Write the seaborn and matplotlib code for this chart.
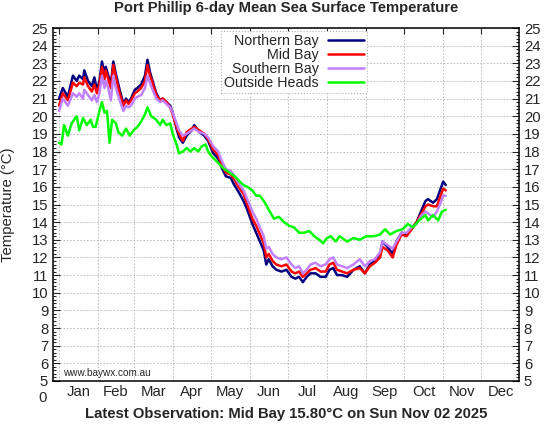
import matplotlib
matplotlib.use('Agg')
import matplotlib.pyplot as plt
import seaborn as sns
from matplotlib.ticker import MultipleLocator

# Day of year (0 = Jan 1) for the three bay sites
days_bay = [0, 3, 7, 11, 14, 16, 19, 20, 23, 26, 28, 30, 32, 34, 36, 37, 39, 41, 43, 45,
            48, 51, 53, 55, 57, 60, 62, 65, 68, 70, 72, 74, 77, 80, 82, 85, 88, 90, 93, 95,
            98, 101, 105, 107, 111, 115, 118, 122, 126, 128, 132, 136, 138, 143, 146, 149, 153, 156, 159, 162,
            164, 166, 169, 172, 176, 180, 184, 187, 190, 193, 196, 199, 203, 207, 211, 214, 217, 220, 224, 228,
            233, 238, 242, 246, 250, 254, 256, 260, 264, 267, 271, 275, 279, 283, 287, 290, 292, 296, 299, 302,
            304, 306]

northern_bay = [21.0, 21.6, 21.1, 22.3, 22.0, 22.3, 22.1, 22.6, 22.0, 21.7, 22.2, 21.5, 22.0, 23.1, 22.4, 22.8, 22.3, 21.8, 23.1, 22.4,
                21.5, 20.7, 21.0, 20.8, 21.0, 21.5, 21.6, 21.8, 22.3, 23.2, 22.5, 22.0, 21.3, 20.9, 21.0, 20.8, 20.6, 20.2, 19.3, 18.8,
                18.5, 18.9, 19.2, 19.5, 19.1, 18.9, 18.6, 17.9, 17.6, 17.2, 16.6, 16.5, 16.2, 15.6, 15.2, 14.7, 13.9, 13.4, 12.9, 12.4,
                11.6, 11.9, 11.5, 11.3, 11.2, 11.3, 10.9, 10.8, 10.9, 10.6, 10.9, 11.1, 11.1, 10.9, 10.9, 11.3, 11.4, 11.0, 11.0, 10.9,
                11.3, 11.5, 11.1, 11.6, 11.8, 12.1, 12.9, 12.6, 12.2, 12.9, 13.4, 13.3, 13.6, 14.0, 14.7, 15.2, 15.3, 15.1, 15.3, 15.9,
                16.3, 16.1]

mid_bay = [20.6, 21.3, 20.9, 21.9, 21.7, 21.9, 21.8, 22.2, 21.7, 21.4, 21.8, 21.3, 21.8, 22.8, 22.1, 22.6, 22.1, 21.6, 22.9, 22.2,
           21.3, 20.6, 20.9, 20.7, 20.9, 21.3, 21.4, 21.6, 22.0, 22.9, 22.3, 21.9, 21.2, 20.9, 21.0, 20.8, 20.5, 20.1, 19.4, 19.0,
           18.6, 19.1, 19.3, 19.4, 19.2, 19.0, 18.7, 18.1, 17.8, 17.4, 16.8, 16.7, 16.5, 15.9, 15.6, 15.0, 14.2, 13.8, 13.3, 12.8,
           12.0, 12.2, 11.8, 11.6, 11.5, 11.6, 11.2, 11.1, 11.2, 10.9, 11.1, 11.3, 11.4, 11.2, 11.2, 11.6, 11.7, 11.3, 11.2, 11.1,
           11.3, 11.4, 11.1, 11.5, 11.7, 12.0, 12.6, 12.4, 12.0, 12.7, 13.3, 13.2, 13.6, 14.0, 14.5, 14.9, 15.0, 14.9, 14.9, 15.5,
           15.9, 15.8]

southern_bay = [20.3, 21.0, 20.6, 21.3, 21.1, 21.3, 21.0, 21.5, 21.2, 20.9, 21.2, 20.8, 21.3, 22.3, 21.6, 22.0, 21.6, 20.9, 22.3, 21.6,
                20.9, 20.3, 20.6, 20.5, 20.6, 21.0, 21.1, 21.2, 21.6, 22.3, 21.9, 21.5, 21.0, 20.8, 20.9, 20.7, 20.5, 20.2, 19.6, 19.2,
                18.9, 19.0, 19.2, 19.3, 19.1, 19.0, 18.8, 18.3, 18.0, 17.6, 17.0, 16.9, 16.7, 16.1, 15.8, 15.3, 14.6, 14.2, 13.7, 13.2,
                12.5, 12.6, 12.2, 12.0, 11.9, 12.0, 11.6, 11.4, 11.5, 11.1, 11.3, 11.6, 11.7, 11.5, 11.6, 11.9, 12.0, 11.6, 11.5, 11.4,
                11.6, 11.9, 11.5, 11.8, 11.9, 12.3, 12.9, 12.7, 12.5, 12.9, 13.4, 13.4, 13.7, 13.9, 14.4, 14.6, 14.5, 14.3, 14.6, 15.1,
                15.5, 15.5]

# Outside the heads
days_heads = [0, 2, 4, 7, 10, 14, 16, 19, 22, 25, 27, 29, 32, 34, 36, 38, 40, 42, 45, 47,
              50, 53, 56, 59, 62, 65, 68, 70, 73, 77, 80, 82, 85, 88, 90, 93, 95, 98, 101, 104,
              107, 110, 113, 116, 118, 121, 124, 128, 131, 135, 139, 143, 146, 149, 153, 156, 159, 163, 166, 170,
              174, 178, 182, 186, 190, 194, 198, 202, 206, 209, 212, 215, 219, 222, 228, 233, 238, 243, 249, 254,
              258, 262, 267, 272, 276, 280, 285, 290, 292, 296, 300, 303, 306]

outside_heads = [18.5, 18.4, 19.5, 18.9, 19.6, 20.0, 19.2, 19.9, 19.5, 19.8, 19.4, 19.4, 20.3, 20.8, 20.2, 20.3, 18.5, 19.8, 19.6, 19.1,
                 18.9, 19.3, 18.9, 19.2, 19.4, 19.7, 20.1, 20.5, 20.0, 19.8, 19.5, 19.8, 19.5, 19.6, 19.0, 18.4, 17.9, 18.0, 18.2, 18.0,
                 18.2, 18.0, 18.3, 18.4, 18.0, 17.7, 17.5, 17.2, 17.0, 16.8, 16.6, 16.3, 16.1, 16.0, 15.8, 15.5, 15.5, 15.1, 14.7, 14.2,
                 14.3, 14.0, 13.8, 13.7, 13.4, 13.4, 13.5, 13.2, 13.0, 12.8, 13.1, 13.2, 12.9, 13.2, 12.9, 13.1, 13.0, 13.2, 13.2, 13.3,
                 13.6, 13.3, 13.5, 13.6, 13.9, 13.7, 14.1, 14.4, 14.1, 14.4, 14.1, 14.6, 14.7]

month_names = ['Jan', 'Feb', 'Mar', 'Apr', 'May', 'Jun', 'Jul', 'Aug', 'Sep', 'Oct', 'Nov', 'Dec']
month_starts = [0, 31, 59, 90, 120, 151, 181, 212, 243, 273, 304, 334]
month_lengths = [31, 28, 31, 30, 31, 30, 31, 31, 30, 31, 30, 31]
month_mids = [s + n / 2 for s, n in zip(month_starts, month_lengths)]

sns.set_style('white')
plt.rcParams['font.family'] = ['Liberation Sans', 'DejaVu Sans']

fig = plt.figure(figsize=(5.48, 4.24), dpi=100)
ax = fig.add_axes([53 / 548, 43 / 424, 466 / 548, 353 / 424])

sns.lineplot(x=days_bay, y=northern_bay, color='#000080', lw=1.8, ax=ax, label='Northern Bay', estimator=None)
sns.lineplot(x=days_bay, y=mid_bay, color='#ff0000', lw=1.8, ax=ax, label='Mid Bay', estimator=None)
sns.lineplot(x=days_bay, y=southern_bay, color='#c080ff', lw=1.8, ax=ax, label='Southern Bay', estimator=None)
sns.lineplot(x=days_heads, y=outside_heads, color='#00ff00', lw=1.8, ax=ax, label='Outside Heads', estimator=None)

ax.set_xlim(-4.75, 364)
ax.set_ylim(5, 25)

# x: grid at month boundaries, labels mid-month
ax.set_xticks(month_starts)
ax.set_xticklabels([])
ax.set_xticks(month_mids, minor=True)
ax.set_xticklabels(month_names, minor=True)
ax.tick_params(axis='x', which='major', direction='in', length=4, top=True, width=0.8)
ax.tick_params(axis='x', which='minor', length=0, pad=3, labelsize=10.7)

ax.set_yticks(range(5, 26))
ax.yaxis.set_minor_locator(MultipleLocator(0.2))
ax.tick_params(axis='y', which='both', direction='in', left=True, right=True,
               labelleft=True, labelright=True, labelsize=10.7, pad=3.5, width=0.8)
ax.tick_params(axis='y', which='major', length=5)
ax.tick_params(axis='y', which='minor', length=2.5)

ax.grid(True, which='major', color='#b4b4b4', linestyle=(0, (2, 2)), lw=0.6)
for sp in ax.spines.values():
    sp.set_color('black')
    sp.set_linewidth(1.1)

ax.set_xlabel('')
ax.set_ylabel('')

leg = ax.legend(loc='upper right', bbox_to_anchor=(0.674, 0.9915), markerfirst=False,
                fontsize=10.3, handlelength=2.5, handletextpad=0.7, labelspacing=0.0,
                borderpad=0.2, borderaxespad=0, fancybox=False, framealpha=1)
leg.get_frame().set_edgecolor('#b4b4b4')
leg.get_frame().set_linestyle(':')
leg.get_frame().set_linewidth(0.8)
for line in leg.get_lines():
    line.set_linewidth(1.8)

ax.text(10 / 466, 8 / 353, 'www.baywx.com.au', transform=ax.transAxes,
        fontsize=7.2, va='center', ha='left')

fig.text(43 / 548, 1 - 398 / 424, '0', ha='center', va='center', fontsize=10.7)
fig.text(286 / 548, 1 - 8 / 424, 'Port Phillip 6-day Mean Sea Surface Temperature',
         ha='center', va='center', fontsize=10.7, weight='bold')
fig.text(286 / 548, 1 - 414 / 424, 'Latest Observation: Mid Bay 15.80°C on Sun Nov 02 2025',
         ha='center', va='center', fontsize=10.7, weight='bold')
fig.text(8.5 / 548, 1 - 205 / 424, 'Temperature (°C)', ha='center', va='center',
         rotation=90, fontsize=10.7)

plt.savefig('out.png', dpi=100)
